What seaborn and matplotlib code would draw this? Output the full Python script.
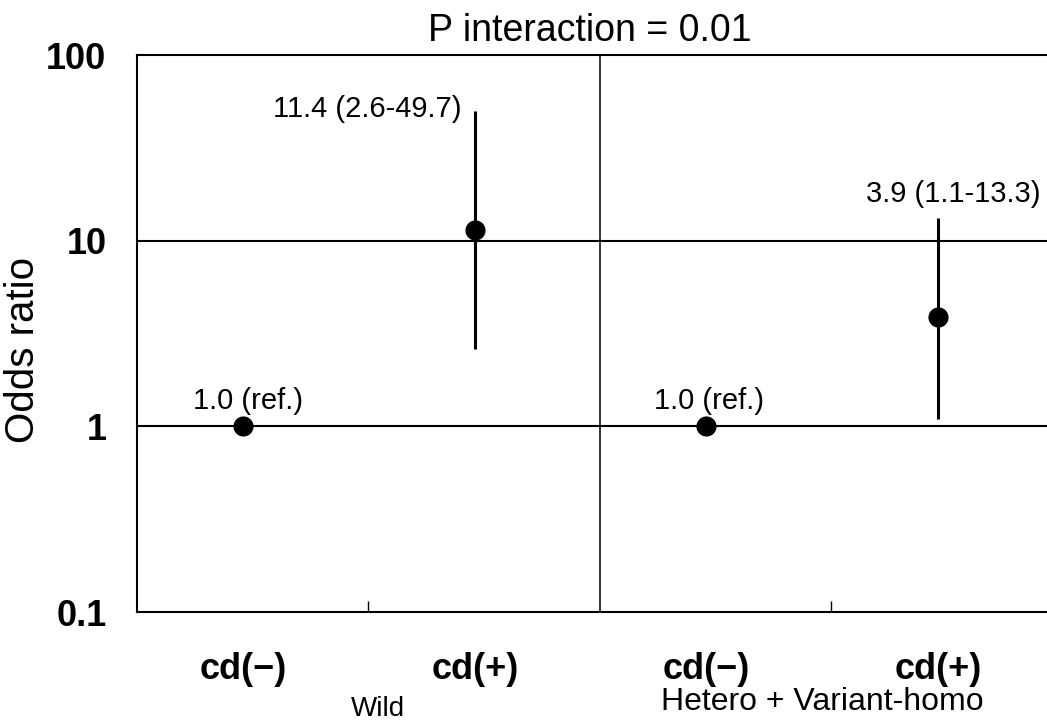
import numpy as np
import pandas as pd
import matplotlib
matplotlib.use("Agg")
import matplotlib.pyplot as plt
import matplotlib.transforms as mtransforms
import seaborn as sns

# Odds ratios with 95% confidence intervals, by genotype group and cd status
groups = ["Wild", "Hetero + Variant-homo"]
cd_labels = ["cd(\u2212)", "cd(+)", "cd(\u2212)", "cd(+)"]
group_of = ["Wild", "Wild", "Hetero + Variant-homo", "Hetero + Variant-homo"]
odds_ratio = [1.0, 11.4, 1.0, 3.9]
ci_lower = [np.nan, 2.6, np.nan, 1.1]
ci_upper = [np.nan, 49.7, np.nan, 13.3]
value_labels = ["1.0 (ref.)", "11.4 (2.6-49.7)", "1.0 (ref.)", "3.9 (1.1-13.3)"]
y_ticks = [0.1, 1, 10, 100]
y_tick_labels = ["0.1", "1", "10", "100"]
title = "P interaction = 0.01"

sns.set_style("white")
plt.rcParams["font.family"] = ["Liberation Sans", "DejaVu Sans"]
plt.rcParams["text.color"] = "black"
plt.rcParams["axes.labelcolor"] = "black"
plt.rcParams["xtick.color"] = "black"
plt.rcParams["ytick.color"] = "black"

df = pd.DataFrame({
    "cd": cd_labels,
    "group": group_of,
    "or": odds_ratio,
    "lo": ci_lower,
    "hi": ci_upper,
})
df["pos"] = np.arange(len(df)) + 0.46

fig = plt.figure(figsize=(10.47, 7.22), dpi=100)
ax = fig.add_axes([0.13085, 0.15235, 0.88443, 0.77147])

ax.set_yscale("log")
ax.set_ylim(y_ticks[0], y_ticks[-1])
ax.set_xlim(0, 4)

# reference lines at 1 and 10, and the divider between the two genotype groups
for yv in y_ticks[1:-1]:
    ax.axhline(yv, color="black", lw=1.5, zorder=1)
ax.axvline(2, color="black", lw=1.1, zorder=1)

# confidence intervals
ci = df.dropna(subset=["lo", "hi"])
ax.vlines(ci["pos"], ci["lo"], ci["hi"], color="black", lw=2.2, zorder=2)

sns.scatterplot(data=df, x="pos", y="or", ax=ax, color="black", s=210,
                edgecolor="black", linewidth=0, zorder=3, legend=False)

# value annotations
offsets = [((3, 18), "center"), ((-10, 2), "right"), ((2, 18), "center"), ((11, 17), "center")]
for i, row in df.iterrows():
    anchor_y = row["or"] if np.isnan(row["hi"]) else row["hi"]
    (dx, dy), ha = offsets[i]
    ax.annotate(value_labels[i], xy=(row["pos"], anchor_y), xytext=(dx, dy),
                textcoords="offset points", ha=ha, va="center", fontsize=21,
                color="black")

# axes styling
for side in ["left", "top", "bottom", "right"]:
    ax.spines[side].set_visible(True)
    ax.spines[side].set_color("black")
    ax.spines[side].set_linewidth(1.5)

ax.set_yticks(y_ticks)
ax.set_yticklabels(y_tick_labels, fontsize=26, fontweight="bold")
ax.yaxis.set_minor_locator(matplotlib.ticker.NullLocator())
ax.tick_params(axis="y", which="major", length=0, pad=22)

ax.set_xticks(df["pos"])
ax.set_xticklabels(df["cd"], fontsize=26, fontweight="bold")
ax.set_xticks([1, 3], minor=True)
ax.tick_params(axis="x", which="major", length=0, pad=29)
ax.tick_params(axis="x", which="minor", direction="in", length=8, width=1.0,
               bottom=True)

ax.set_xlabel("")
ax.set_ylabel("Odds ratio", fontsize=29)
ax.yaxis.set_label_coords(-0.1026, 0.47)

# genotype group labels under the category labels
trans = mtransforms.blended_transform_factory(ax.transData, ax.transAxes)
ax.text(1.04, -0.174, groups[0], transform=trans, ha="center", va="center",
        fontsize=20)
ax.text(2.96, -0.161, groups[1], transform=trans, ha="center", va="center",
        fontsize=23)

fig.text(0.5635, 0.957, title, ha="center", va="center", fontsize=27)

fig.savefig("out.png", dpi=100)
